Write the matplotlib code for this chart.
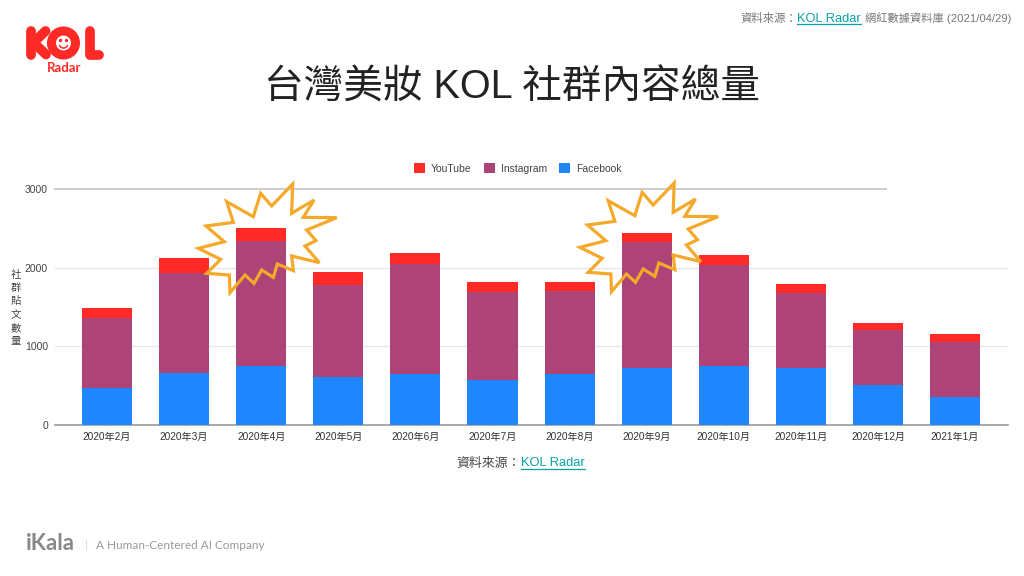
"""
台灣美妝 KOL 社群內容總量 stacked bars.
"""

import matplotlib

matplotlib.use('Agg')
import matplotlib.pyplot as plt
import numpy as np
from matplotlib.patches import Circle, Arc, Polygon

plt.rcParams["font.family"] = ["Liberation Sans", "Noto Sans CJK TC", "DejaVu Sans"]

months = ["2020年2月", "2020年3月", "2020年4月", "2020年5月", "2020年6月", "2020年7月",
          "2020年8月", "2020年9月", "2020年10月", "2020年11月", "2020年12月", "2021年1月"]
facebook = [470, 660, 750, 610, 650, 570, 650, 725, 750, 725, 505, 355]
instagram = [890, 1270, 1590, 1170, 1400, 1120, 1055, 1605, 1285, 955, 700, 700]
youtube = [125, 190, 165, 165, 140, 130, 110, 110, 130, 115, 90, 100]
yticks = [0, 1000, 2000, 3000]

# hand drawn burst, pixels relative to the first burst's corner
burst = [(308, 42), (305, 130), (372, 90), (340, 142), (440, 143), (350, 180), (378, 212),
         (345, 228), (388, 278), (305, 258), (310, 302), (262, 282), (250, 322), (215, 300),
         (192, 340), (165, 315), (120, 368), (118, 315), (50, 310), (92, 268), (25, 235),
         (103, 215), (48, 168), (130, 157), (110, 95), (190, 140), (212, 70), (245, 108)]

W, H = 1024, 576
fig = plt.figure(figsize=(W / 100, H / 100), dpi=100)

ax = fig.add_axes([55 / W, 1 - 425 / H, (1008 - 55) / W, (425 - 189) / H])
x = np.arange(len(months))
width = 0.65
fb = np.array(facebook)
ig = np.array(instagram)
yt = np.array(youtube)

b1 = ax.bar(x, fb, width, color="#1f86ff", zorder=3)
b2 = ax.bar(x, ig, width, bottom=fb, color="#ae4378", zorder=3)
b3 = ax.bar(x, yt, width, bottom=fb + ig, color="#ff2a26", zorder=3)

ax.set_xlim(-0.674, 11.686)
ax.set_ylim(0, 3000)
ax.set_xticks(x)
ax.set_xticklabels(months, fontsize=7.3, color="#333333")
ax.set_yticks(yticks)
ax.set_yticklabels(yticks, fontsize=7.5, color="#444444")
ax.tick_params(axis="x", length=0, pad=5)
ax.tick_params(axis="y", length=0, pad=5)
for side in ["top", "right", "left"]:
    ax.spines[side].set_visible(False)
ax.spines["bottom"].set_color("#999999")
ax.spines["bottom"].set_linewidth(1.2)
for v in yticks[1:3]:
    ax.axhline(v, color="#e6e6e6", linewidth=0.9, zorder=1)
ax.plot([-0.674, 10.11], [3000, 3000], color="#cccccc", linewidth=1.4, zorder=1, clip_on=False)

ax.legend([b3, b2, b1], ["YouTube", "Instagram", "Facebook"], ncol=3, frameon=False,
          fontsize=7.5, loc="center", bbox_to_anchor=(518 / W, 1 - 168.5 / H),
          bbox_transform=fig.transFigure, handlelength=1, handleheight=1,
          handletextpad=0.6, columnspacing=1.2, labelcolor="#444444")

# overlay in pixel coordinates for logo, captions and bursts
ov = fig.add_axes([0, 0, 1, 1], zorder=5)
ov.set_xlim(0, W)
ov.set_ylim(H, 0)
ov.axis("off")

for dx, dy in [(0, 0), (381.5, -1)]:
    pts = [(190 + px / 3 + dx, 170 + py / 3 + dy) for px, py in burst]
    ov.add_patch(Polygon(pts, closed=True, fill=False, edgecolor="#f5a92a", linewidth=2.3,
                         joinstyle="miter"))

ov.text(512, 87.5, "台灣美妝 KOL 社群內容總量", fontsize=28.5, fontweight="light",
        ha="center", va="center", color="#222222")

ov.text(797, 18.5, "資料來源：", fontsize=8.2, ha="right", va="center", color="#777777")
ov.text(797, 18.5, "KOL Radar", fontsize=9.3, ha="left", va="center", color="#0aa0aa")
ov.plot([797, 861], [23.5, 23.5], color="#0aa0aa", linewidth=0.9)
ov.text(865, 18.5, "網紅數據資料庫 (2021/04/29)", fontsize=8.1, ha="left", va="center", color="#777777")

ov.text(521, 463.5, "資料來源：", fontsize=9.3, ha="right", va="center", color="#444444")
ov.text(521, 463.5, "KOL Radar", fontsize=9.3, ha="left", va="center", color="#0aa0aa")
ov.plot([521, 585], [469, 469], color="#0aa0aa", linewidth=0.9)

ov.text(16, 308, "\n".join("社群貼文數量"), fontsize=7.5, ha="center", va="center",
        color="#444444", linespacing=1.42)

# logo
red = "#ff2a26"
lw = 7
for xs, ys in [([30.5, 30.5], [31, 54.5]), ([32, 45.5], [44, 31]), ([33, 46], [42, 54.5]),
               ([89.5, 89.5, 99], [31, 54.5, 54.5])]:
    ov.plot(xs, ys, color=red, linewidth=lw, solid_capstyle="round", solid_joinstyle="round")
ov.add_patch(Circle((63.5, 43), 12, fill=False, edgecolor=red, linewidth=6.5))
ov.add_patch(Arc((63.5, 43.5), 9, 9, theta1=20, theta2=160, color=red, linewidth=1.1))
ov.add_patch(Circle((60.5, 40.5), 1, color=red))
ov.add_patch(Circle((66.5, 40.5), 1, color=red))
ov.text(64, 68, "Radar", fontsize=9.5, fontweight="bold", family="Lato", color=red, ha="center", va="center")

# footer
ov.text(26, 543, "iKala", fontsize=16, fontweight="bold", family="Lato", color="#888888", ha="left", va="center")
ov.plot([85.5, 85.5], [540, 549], color="#dddddd", linewidth=0.8)
ov.text(96, 545.5, "A Human-Centered AI Company", fontsize=8.45, family="Lato", color="#999999", ha="left", va="center")

fig.savefig("out.png", dpi=100)
plt.close(fig)
